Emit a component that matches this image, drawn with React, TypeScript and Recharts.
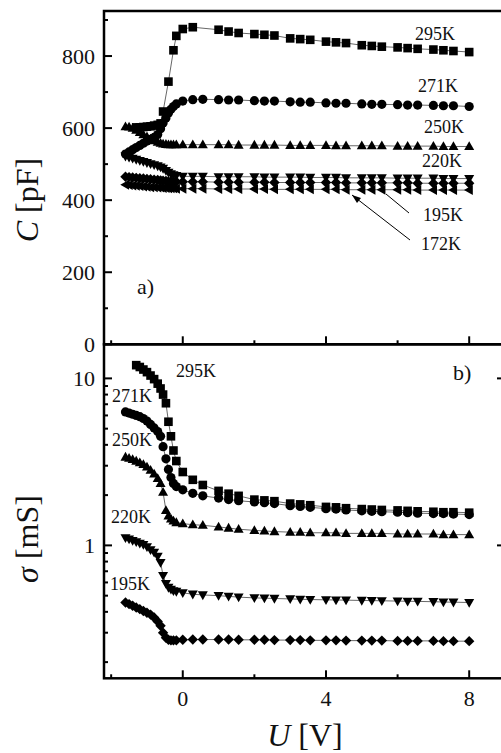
import { ScatterChart, Scatter, XAxis, YAxis } from "recharts";

const FONT = "'Liberation Serif', 'Times New Roman', serif";

// bias voltage grid (V)
const U = [
  -1.6, -1.5, -1.4, -1.3, -1.2, -1.1, -1.0, -0.9, -0.8, -0.7, -0.62, -0.55, -0.47, -0.4, -0.33, -0.26, -0.18,
  0, 0.28, 0.56, 1, 1.28, 1.56, 2, 2.28, 2.56, 3, 3.28, 3.56, 4, 4.28, 4.56, 5, 5.28, 5.56, 6, 6.28, 6.56,
  7, 7.28, 7.56, 8,
];

// capacitance C [pF]
const C295 = [null, null, null, 602, 602, 603, 604, 605, 607, 609, 613, 646, null, 729, null, 816, 856, 875, 880, null, 873, 868, 864, 861, 859, 857, 849, 847, 845, 840, 838, 836, 830, 828, 826, 824, 822, 820, 818, 816, 814, 811];
const C271 = [528, 534, 540, 546, 552, 558, 564, 569, 574, 582, 598, 614, 628, 642, 652, 660, 667, 675, 679, 680, 679, 678, 678, 676, 675, 675, 673, 672, 672, 670, 669, 669, 667, 666, 666, 665, 664, 664, 663, 662, 662, 660];
const C250 = [604, 603, 600, 594, 588, 582, 576, 570, 565, 561, 558, 556, 555, 554, 554, 554, 554, 554, 554, 554, 554, 554, 553, 553, 553, 553, 552, 552, 552, 552, 551, 551, 551, 551, 551, 550, 550, 550, 550, 549, 549, 549];
const C220 = [522, 519, 516, 513, 510, 507, 504, 501, 498, 495, 492, 488, 482, 477, 473, 470, 468, 466, 466, 466, 465, 465, 465, 465, 464, 464, 464, 464, 463, 463, 463, 462, 462, 462, 462, 461, 461, 461, 461, 460, 460, 460];
const C195 = [465, 464, 463, 462, 461, 460, 459, 458, 457, 456, 455, 454, 453, 452, 452, 451, 451, 451, 451, 451, 450, 450, 450, 450, 450, 449, 449, 449, 449, 449, 449, 448, 448, 448, 448, 448, 448, 447, 447, 447, 447, 447];
const C172 = [443, 442, 441, 440, 439, 438, 437, 436, 436, 435, 435, 434, 434, 433, 433, 433, 432, 432, 432, 432, 431, 431, 431, 431, 431, 430, 430, 430, 430, 430, 430, 429, 429, 429, 429, 429, 429, 428, 428, 428, 428, 428];

// conductance sigma [mS]
const S295 = [null, null, null, 12.0, 11.7, 11.3, 10.9, 10.4, 9.9, 9.3, 8.7, 8.0, 7.1, 5.5, 4.5, 3.7, 3.2, 2.75, 2.47, 2.3, 2.12, 2.04, 1.98, 1.88, 1.86, 1.84, 1.78, 1.76, 1.74, 1.7, 1.69, 1.67, 1.65, 1.64, 1.63, 1.62, 1.61, 1.6, 1.59, 1.58, 1.58, 1.57];
const S271 = [6.3, 6.2, 6.1, 6.0, 5.9, 5.75, 5.55, 5.3, 5.05, 4.8, 4.5, 3.9, 3.3, 2.85, 2.55, 2.35, 2.25, 2.15, 2.05, 1.98, 1.92, 1.88, 1.85, 1.82, 1.8, 1.78, 1.73, 1.71, 1.69, 1.66, 1.65, 1.63, 1.61, 1.6, 1.59, 1.58, 1.57, 1.56, 1.55, 1.55, 1.54, 1.53];
const S250 = [3.38, 3.33, 3.27, 3.2, 3.13, 3.05, 2.95, 2.82, 2.68, 2.52, 2.35, 2.08, 1.62, 1.5, 1.44, 1.4, 1.37, 1.35, 1.33, 1.32, 1.29, 1.27, 1.25, 1.23, 1.22, 1.21, 1.2, 1.2, 1.19, 1.19, 1.19, 1.18, 1.18, 1.18, 1.18, 1.17, 1.17, 1.17, 1.17, 1.16, 1.16, 1.16];
const S220 = [1.11, 1.09, 1.07, 1.05, 1.03, 1.01, 0.98, 0.94, 0.91, 0.86, 0.79, 0.66, 0.59, 0.56, 0.545, 0.535, 0.53, 0.52, 0.51, 0.505, 0.5, 0.495, 0.49, 0.485, 0.483, 0.481, 0.478, 0.476, 0.474, 0.472, 0.471, 0.47, 0.468, 0.467, 0.466, 0.464, 0.463, 0.462, 0.46, 0.458, 0.457, 0.455];
const S195 = [0.455, 0.445, 0.435, 0.425, 0.415, 0.405, 0.395, 0.385, 0.37, 0.35, 0.33, 0.3, 0.28, 0.272, 0.27, 0.27, 0.27, 0.272, 0.273, 0.273, 0.273, 0.273, 0.272, 0.272, 0.272, 0.271, 0.271, 0.271, 0.27, 0.27, 0.27, 0.269, 0.269, 0.269, 0.269, 0.268, 0.268, 0.268, 0.268, 0.267, 0.267, 0.267];

const X_DOMAIN = [-2.2, 9];
const C_DOMAIN = [0, 925];
const S_DOMAIN = [0.16, 16];
const X_TICKS = [-2, 0, 2, 4, 6, 8];
const C_TICKS = [0, 100, 200, 300, 400, 500, 600, 700, 800, 900];
const S_TICKS = [0.2, 0.3, 0.4, 0.5, 0.6, 0.7, 0.8, 0.9, 1, 2, 3, 4, 5, 6, 7, 8, 9, 10];

function pts(vals: (number | null)[]) {
  return U.map((u, i) => ({ u, v: vals[i] })).filter((p) => p.v != null);
}

const square = (p: any) => <rect x={p.cx - 4.3} y={p.cy - 4.3} width={8.6} height={8.6} fill="#000" />;
const circle = (p: any) => <circle cx={p.cx} cy={p.cy} r={4.6} fill="#000" />;
const triUp = (p: any) => (
  <path d={`M${p.cx},${p.cy - 5.2}L${p.cx + 5},${p.cy + 3.6}L${p.cx - 5},${p.cy + 3.6}Z`} fill="#000" />
);
const triDown = (p: any) => (
  <path d={`M${p.cx},${p.cy + 5.2}L${p.cx + 5},${p.cy - 3.6}L${p.cx - 5},${p.cy - 3.6}Z`} fill="#000" />
);
const diamond = (p: any) => (
  <path d={`M${p.cx},${p.cy - 5.2}L${p.cx + 5.2},${p.cy}L${p.cx},${p.cy + 5.2}L${p.cx - 5.2},${p.cy}Z`} fill="#000" />
);
const triLeft = (p: any) => (
  <path d={`M${p.cx - 5.2},${p.cy}L${p.cx + 3.6},${p.cy - 5}L${p.cx + 3.6},${p.cy + 5}Z`} fill="#000" />
);

const LINE = { stroke: "#000", strokeWidth: 0.6 };

const xTick = (dir: number, labels: boolean) => (p: any) => {
  const v = p.payload.value;
  const major = v % 4 === 0;
  return (
    <g>
      <line x1={p.x} y1={p.y} x2={p.x} y2={p.y + dir * (major ? 8 : 4)} stroke="#000" strokeWidth={2} />
      {labels && major && (
        <text x={p.x} y={p.y + 28} textAnchor="middle" fontSize={22} fontFamily={FONT} fill="#111">
          {v}
        </text>
      )}
    </g>
  );
};

const yTick = (dir: number, labels: boolean, isMajor: (v: number) => boolean) => (p: any) => {
  const v = p.payload.value;
  const major = isMajor(v);
  return (
    <g>
      <line x1={p.x} y1={p.y} x2={p.x + dir * (major ? 8 : 4)} y2={p.y} stroke="#000" strokeWidth={2} />
      {labels && major && (
        <text x={p.x - 9} y={p.y + 7.5} textAnchor="end" fontSize={22} fontFamily={FONT} fill="#111">
          {v}
        </text>
      )}
    </g>
  );
};

const cMajor = (v: number) => v % 200 === 0;
const sMajor = (v: number) => v === 1 || v === 10;

const lbl = { fontSize: 18, fontFamily: FONT, fill: "#111" };

const axisCommon = {
  type: "number" as const,
  interval: 0,
  tickSize: 0,
  tickMargin: 0,
  tickLine: false,
  axisLine: false,
};

export default function App() {
  return (
    <div style={{ position: "relative", width: 501, height: 753, overflow: "hidden", background: "#fff" }}>
      <style>{`body{margin:0;overflow:hidden}`}</style>

      {/* a) capacitance */}
      <div style={{ position: "absolute", left: 0, top: 0 }}>
        <ScatterChart width={520} height={370} margin={{ top: 10, right: 14, bottom: 24.7, left: 103 }}>
          <XAxis xAxisId="b" {...axisCommon} dataKey="u" domain={X_DOMAIN} ticks={X_TICKS}
            orientation="bottom" height={1} tick={xTick(-1, false)} />
          <XAxis xAxisId="t" {...axisCommon} dataKey="u" domain={X_DOMAIN} ticks={X_TICKS}
            orientation="top" height={1} tick={xTick(1, false)} />
          <YAxis yAxisId="l" {...axisCommon} dataKey="v" domain={C_DOMAIN} ticks={C_TICKS}
            orientation="left" width={1} tick={yTick(1, true, cMajor)} />
          <YAxis yAxisId="r" {...axisCommon} dataKey="v" domain={C_DOMAIN} ticks={C_TICKS}
            orientation="right" width={1} tick={yTick(-1, false, cMajor)} />
          <Scatter xAxisId="b" yAxisId="l" data={pts(C172)} shape={triLeft} line={LINE} isAnimationActive={false} />
          <Scatter xAxisId="b" yAxisId="l" data={pts(C195)} shape={diamond} line={LINE} isAnimationActive={false} />
          <Scatter xAxisId="b" yAxisId="l" data={pts(C220)} shape={triDown} line={LINE} isAnimationActive={false} />
          <Scatter xAxisId="b" yAxisId="l" data={pts(C250)} shape={triUp} line={LINE} isAnimationActive={false} />
          <Scatter xAxisId="b" yAxisId="l" data={pts(C271)} shape={circle} line={LINE} isAnimationActive={false} />
          <Scatter xAxisId="b" yAxisId="l" data={pts(C295)} shape={square} line={LINE} isAnimationActive={false} />
        </ScatterChart>
      </div>

      {/* b) conductance */}
      <div style={{ position: "absolute", left: 0, top: 330 }}>
        <ScatterChart width={520} height={423} margin={{ top: 13.3, right: 14, bottom: 73.7, left: 103 }}>
          <XAxis xAxisId="b" {...axisCommon} dataKey="u" domain={X_DOMAIN} ticks={X_TICKS}
            orientation="bottom" height={1} tick={xTick(-1, true)} />
          <XAxis xAxisId="t" {...axisCommon} dataKey="u" domain={X_DOMAIN} ticks={X_TICKS}
            orientation="top" height={1} tick={xTick(1, false)} />
          <YAxis yAxisId="l" {...axisCommon} dataKey="v" scale="log" domain={S_DOMAIN} allowDataOverflow ticks={S_TICKS}
            orientation="left" width={1} tick={yTick(1, true, sMajor)} />
          <YAxis yAxisId="r" {...axisCommon} dataKey="v" scale="log" domain={S_DOMAIN} allowDataOverflow ticks={S_TICKS}
            orientation="right" width={1} tick={yTick(-1, false, sMajor)} />
          <Scatter xAxisId="b" yAxisId="l" data={pts(S195)} shape={diamond} line={LINE} isAnimationActive={false} />
          <Scatter xAxisId="b" yAxisId="l" data={pts(S220)} shape={triDown} line={LINE} isAnimationActive={false} />
          <Scatter xAxisId="b" yAxisId="l" data={pts(S250)} shape={triUp} line={LINE} isAnimationActive={false} />
          <Scatter xAxisId="b" yAxisId="l" data={pts(S271)} shape={circle} line={LINE} isAnimationActive={false} />
          <Scatter xAxisId="b" yAxisId="l" data={pts(S295)} shape={square} line={LINE} isAnimationActive={false} />
        </ScatterChart>
      </div>

      <svg width={501} height={753} style={{ position: "absolute", left: 0, top: 0, pointerEvents: "none" }}>
        {/* plot frames */}
        <rect x={104} y={11} width={401} height={333.3} fill="none" stroke="#000" strokeWidth={2.5} />
        <rect x={104} y={344.3} width={401} height={334} fill="none" stroke="#000" strokeWidth={2.5} />

        <text transform="translate(38,200) rotate(-90)" textAnchor="middle" fontSize={32} fontFamily={FONT} fill="#111">
          <tspan fontStyle="italic">C</tspan>
          {" [pF]"}
        </text>
        <text transform="translate(38,539) rotate(-90)" textAnchor="middle" fontSize={32} fontFamily={FONT} fill="#111">
          <tspan fontStyle="italic">σ</tspan>
          {" [mS]"}
        </text>
        <text x={305} y={746} textAnchor="middle" fontSize={32} fontFamily={FONT} fill="#111">
          <tspan fontStyle="italic">U</tspan>
          {" [V]"}
        </text>

        <text x={137} y={294} fontSize={22} fontFamily={FONT} fill="#111">a)</text>
        <text x={453} y={380} fontSize={22} fontFamily={FONT} fill="#111">b)</text>

        <text x={415} y={40} {...lbl}>295K</text>
        <text x={418} y={92} {...lbl}>271K</text>
        <text x={424} y={133} {...lbl}>250K</text>
        <text x={422} y={167} {...lbl}>220K</text>
        <text x={423} y={221} {...lbl}>195K</text>
        <text x={421} y={250} {...lbl}>172K</text>
        <line x1={409} y1={213} x2={386} y2={194} stroke="#000" strokeWidth={1} />
        <line x1={410} y1={240} x2={352} y2={195} stroke="#000" strokeWidth={1} />
        <path d="M352,195 L361,198 L357,203 Z" fill="#000" />

        <text x={176} y={377} {...lbl}>295K</text>
        <text x={112} y={402} {...lbl}>271K</text>
        <text x={112} y={446} {...lbl}>250K</text>
        <text x={111} y={523} {...lbl}>220K</text>
        <text x={110} y={590} {...lbl}>195K</text>
      </svg>
    </div>
  );
}
